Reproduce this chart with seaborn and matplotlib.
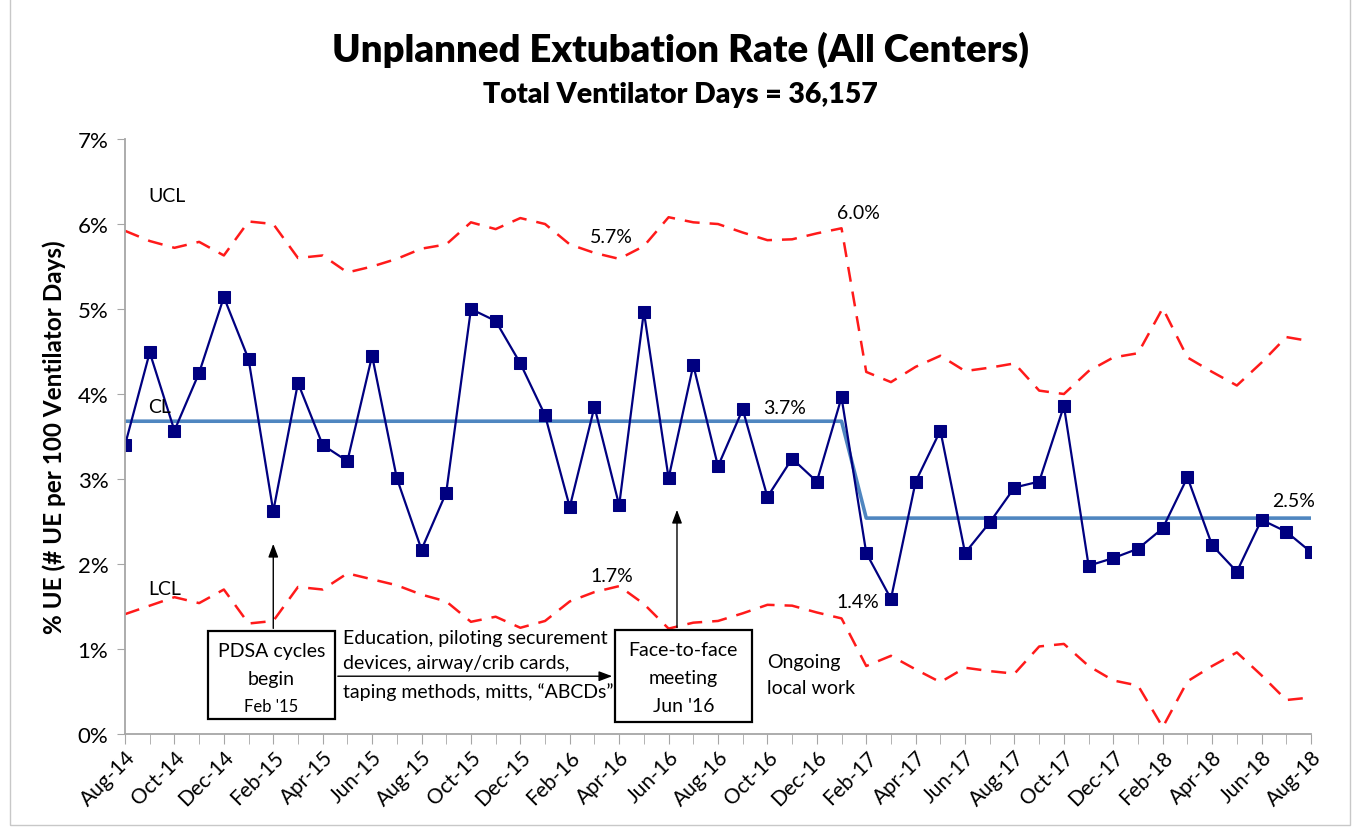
import numpy as np
import pandas as pd
import seaborn as sns
import matplotlib.pyplot as plt
from matplotlib.patches import Rectangle

# monthly data, Aug-14 .. Aug-18
months = pd.date_range('2014-08-01', '2018-08-01', freq='MS').strftime('%b-%y').tolist()
ue_rate = [3.40, 4.49, 3.57, 4.25, 5.14, 4.41, 2.62, 4.13, 3.40, 3.21, 4.45, 3.01, 2.17,
           2.84, 5.00, 4.86, 4.36, 3.75, 2.67, 3.85, 2.69, 4.97, 3.01, 4.34, 3.15, 3.82,
           2.79, 3.24, 2.97, 3.96, 2.13, 1.59, 2.97, 3.57, 2.13, 2.49, 2.90, 2.97, 3.86,
           1.98, 2.07, 2.18, 2.42, 3.02, 2.22, 1.91, 2.52, 2.38, 2.14]
cl = [3.68] * 30 + [2.54] * 19
ucl = [5.92, 5.80, 5.72, 5.79, 5.63, 6.03, 6.00, 5.60, 5.63, 5.43, 5.50, 5.59, 5.71,
       5.76, 6.02, 5.94, 6.07, 6.00, 5.76, 5.66, 5.59, 5.74, 6.08, 6.02, 6.00, 5.90,
       5.81, 5.82, 5.89, 5.95, 4.26, 4.14, 4.32, 4.45, 4.27, 4.31, 4.36, 4.04, 4.00,
       4.27, 4.43, 4.48, 5.01, 4.43, 4.26, 4.10, 4.37, 4.67, 4.62]
lcl = [1.41, 1.51, 1.61, 1.54, 1.70, 1.30, 1.33, 1.73, 1.70, 1.89, 1.82, 1.75, 1.64,
       1.56, 1.32, 1.38, 1.25, 1.33, 1.56, 1.67, 1.74, 1.53, 1.24, 1.31, 1.33, 1.42,
       1.52, 1.51, 1.43, 1.36, 0.80, 0.92, 0.76, 0.61, 0.78, 0.74, 0.71, 1.03, 1.06,
       0.80, 0.63, 0.57, 0.08, 0.62, 0.80, 0.96, 0.69, 0.40, 0.43]

df = pd.DataFrame({'idx': range(len(months)), 'month': months, 'rate': ue_rate,
                   'cl': cl, 'ucl': ucl, 'lcl': lcl})

sns.set_style('white')
plt.rcParams['font.family'] = ['Lato', 'DejaVu Sans']
plt.rcParams['text.color'] = 'black'
plt.rcParams['axes.labelcolor'] = 'black'
plt.rcParams['xtick.color'] = 'black'
plt.rcParams['ytick.color'] = 'black'

fig = plt.figure(figsize=(13.56, 8.28), dpi=100)
ax = fig.add_axes([0.0922, 0.1123, 0.8746, 0.7186])

sns.lineplot(data=df, x='idx', y='ucl', ax=ax, color='#FF1A1A', lw=1.8)
sns.lineplot(data=df, x='idx', y='lcl', ax=ax, color='#FF1A1A', lw=1.8)
for l in ax.lines:
    l.set_linestyle((0, (6, 4)))
sns.lineplot(data=df, x='idx', y='cl', ax=ax, color='#4F86C0', lw=2.6)
sns.lineplot(data=df, x='idx', y='rate', ax=ax, color='#000080', lw=1.6,
             marker='s', markersize=9, markeredgecolor='#000080')

ax.set_xlim(0, 48)
ax.set_ylim(0, 7)
ax.set_xticks(df['idx'], minor=True)
ax.set_xticks(df['idx'][::2])
ax.set_xticklabels(df['month'][::2], rotation=45, ha='right', rotation_mode='anchor', fontsize=15)
ax.set_yticks(range(8))
ax.set_yticklabels([f'{v}%' for v in range(8)], fontsize=16)
ax.tick_params(axis='x', which='both', direction='out', length=7, color='#A6A6A6', bottom=True, pad=2)
ax.tick_params(axis='y', direction='out', length=6, color='#A6A6A6', left=True, pad=6)
ax.set_xlabel('')
ax.set_ylabel('% UE (# UE per 100 Ventilator Days)', fontsize=17.5, fontweight='bold', labelpad=8)
for s in ['top', 'right']:
    ax.spines[s].set_visible(False)
for s in ['left', 'bottom']:
    ax.spines[s].set_color('#A6A6A6')
    ax.spines[s].set_linewidth(1.3)

# limit labels
lab = dict(fontsize=14, color='black')
ax.text(0.93, 6.33, 'UCL', ha='left', va='center', **lab)
ax.text(0.93, 3.85, 'CL', ha='left', va='center', **lab)
ax.text(0.93, 1.71, 'LCL', ha='left', va='center', **lab)
ax.text(19.7, 5.85, '5.7%', ha='center', va='center', **lab)
ax.text(29.67, 6.13, '6.0%', ha='center', va='center', **lab)
ax.text(26.7, 3.84, '3.7%', ha='center', va='center', **lab)
ax.text(19.7, 1.86, '1.7%', ha='center', va='center', **lab)
ax.text(29.67, 1.56, '1.4%', ha='center', va='center', **lab)
ax.text(47.3, 2.75, '2.5%', ha='center', va='center', **lab)

# intervention boxes and arrows
ax.add_patch(Rectangle((3.36, 0.18), 5.14, 1.03, fill=True, facecolor='white',
                       edgecolor='black', lw=1.6, zorder=5))
ax.add_patch(Rectangle((19.83, 0.14), 5.54, 1.08, fill=True, facecolor='white',
                       edgecolor='black', lw=1.6, zorder=5))
arr = dict(arrowstyle='-|>,head_length=0.8,head_width=0.3', color='black', lw=1)
ax.annotate('', xy=(6, 2.27), xytext=(6, 1.21), arrowprops=arr)
ax.annotate('', xy=(22.34, 2.67), xytext=(22.34, 1.22), arrowprops=arr)
ax.annotate('', xy=(19.83, 0.68), xytext=(8.5, 0.68), arrowprops=arr)

box = dict(fontsize=14, color='black', ha='center', va='center', zorder=6)
ax.text(5.93, 0.98, 'PDSA cycles', **box)
ax.text(5.93, 0.65, 'begin', **box)
ax.text(5.93, 0.33, "Feb '15", **{**box, 'fontsize': 12})
ax.text(22.6, 1.0, 'Face-to-face', **box)
ax.text(22.6, 0.67, 'meeting', **box)
ax.text(22.6, 0.34, "Jun '16", **box)

note = dict(fontsize=14, color='black', ha='left', va='center')
ax.text(8.82, 1.14, 'Education, piloting securement', **note)
ax.text(8.82, 0.84, 'devices, airway/crib cards,', **note)
ax.text(8.82, 0.51, 'taping methods, mitts, \u201cABCDs\u201d', **note)
ax.text(26.0, 0.85, 'Ongoing', **note)
ax.text(26.0, 0.55, 'local work', **note)

fig.text(0.5015, 0.94, 'Unplanned Extubation Rate (All Centers)', ha='center', va='center',
         fontsize=27.5, fontweight='heavy')
fig.text(0.5015, 0.885, 'Total Ventilator Days = 36,157', ha='center', va='center',
         fontsize=20.5, fontweight='heavy')

fig.patches.append(Rectangle((10 / 1356, 0.002), 1340 / 1356, 1.01, transform=fig.transFigure,
                             fill=False, edgecolor='#C8C8C8', lw=1))

fig.savefig('out.png', dpi=100)
